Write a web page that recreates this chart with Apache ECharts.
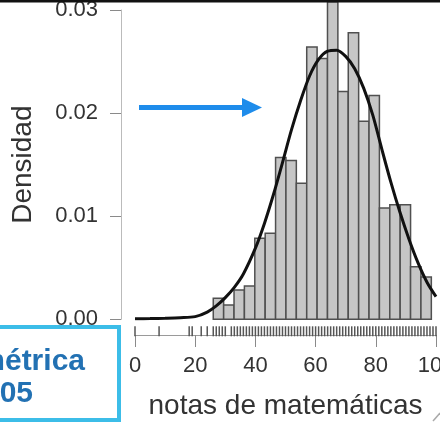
<!DOCTYPE html>
<html>
<head>
<meta charset="utf-8">
<script src="https://cdn.jsdelivr.net/npm/echarts@6/dist/echarts.min.js"></script>
<style>
html, body { margin: 0; padding: 0; background: #fff; }
#chart { width: 440px; height: 422px; }
</style>
</head>
<body>
<div id="chart"></div>
<script>
// histograma: bordes de las clases y densidad de cada una
var binEdges = [26, 29.45, 32.9, 36.35, 39.8, 43.25, 46.7, 50.15, 53.6, 57.05, 60.5,
    63.95, 67.4, 70.85, 74.3, 77.75, 81.2, 84.65, 88.1, 91.55, 95, 98.45];
var density = [0.00204, 0.00139, 0.00284, 0.00323, 0.00786, 0.00834, 0.0157, 0.0154, 0.0132,
    0.0264, 0.0253, 0.0308, 0.0221, 0.0278, 0.0192, 0.0217, 0.0108, 0.0111, 0.0111, 0.0051, 0.0041];

// curva de densidad
var curveX = [0, 5, 10, 15, 20, 24, 27, 30, 33, 36, 40, 43, 46, 49, 52, 55, 58, 61, 64, 67,
    70, 73, 76, 79, 82, 85, 88, 91, 94, 97, 100];
var curveY = [0.00005, 0.00007, 0.0001, 0.00015, 0.00026, 0.0007, 0.0013, 0.0021, 0.0031, 0.0044,
    0.0069, 0.0093, 0.0121, 0.0152, 0.0184, 0.0212, 0.0236, 0.0252, 0.026, 0.0261,
    0.0255, 0.0243, 0.0224, 0.0198, 0.0165, 0.0133, 0.0104, 0.0078, 0.0055, 0.0036, 0.0022];

// rug (notas observadas)
var rugNotas = [0, 8, 18, 19, 22, 24, 26, 27, 28, 29, 30,
    32, 33, 34, 35, 36, 37, 38, 39, 40, 41, 42, 43, 44, 45, 46, 47, 48, 49, 50,
    51, 52, 53, 54, 55, 56, 57, 58, 59, 60, 61, 62, 63, 64, 65, 66, 67, 68, 69, 70,
    71, 72, 73, 74, 75, 76, 77, 78, 79, 80, 81, 82, 83, 84, 85, 86, 87, 88, 89, 90,
    91, 92, 93, 94, 95, 96, 97, 98, 99, 100];

var xTicks = [0, 20, 40, 60, 80, 100];
var yTicks = [0, 0.01, 0.02, 0.03];

var chart = echarts.init(document.getElementById('chart'));

var histData = density.map(function (d, i) { return [binEdges[i], binEdges[i + 1], d]; });
var curveData = curveX.map(function (x, i) { return [x, curveY[i]]; });
var rugData = rugNotas.map(function (v) { return [v, 0]; });

var font = '"Liberation Sans", Arial, sans-serif';

option = {
    backgroundColor: '#fff',
    animation: false,
    grid: { left: 135, right: 4, top: 10, bottom: 102.7, containLabel: false, outerBoundsMode: 'none' },
    xAxis: {
        type: 'value',
        min: xTicks[0],
        max: xTicks[xTicks.length - 1],
        interval: xTicks[1] - xTicks[0],
        offset: 15.7,
        axisLine: { onZero: false, lineStyle: { color: '#9a9a9a', width: 1 } },
        axisTick: { length: 12, lineStyle: { color: '#8a8a8a' } },
        axisLabel: { fontSize: 22, color: '#333', margin: 20, fontFamily: font, showMaxLabel: true },
        splitLine: { show: false },
        name: 'notas de matemáticas',
        nameLocation: 'middle',
        nameGap: 57,
        nameTextStyle: { fontSize: 28, color: '#333', fontFamily: font }
    },
    yAxis: {
        type: 'value',
        min: yTicks[0],
        max: yTicks[yTicks.length - 1],
        interval: yTicks[1] - yTicks[0],
        offset: 14,
        axisLine: { show: true, onZero: false, lineStyle: { color: '#bbb', width: 1 } },
        axisTick: { show: true, length: 11, lineStyle: { color: '#8a8a8a' } },
        axisLabel: {
            fontSize: 22, color: '#333', margin: 23, fontFamily: font,
            formatter: function (v) { return v.toFixed(2); }
        },
        splitLine: { show: false },
        name: 'Densidad',
        nameLocation: 'middle',
        nameGap: 84,
        nameTextStyle: { fontSize: 28, color: '#333', fontFamily: font }
    },
    series: [
        {
            type: 'custom',
            name: 'histograma',
            data: histData,
            encode: { x: [0, 1], y: 2 },
            clip: false,
            renderItem: function (params, api) {
                var p0 = api.coord([api.value(0), api.value(2)]);
                var p1 = api.coord([api.value(1), 0]);
                return {
                    type: 'rect',
                    shape: { x: p0[0], y: p0[1], width: p1[0] - p0[0], height: p1[1] - p0[1] },
                    style: { fill: '#c6c6c6', stroke: '#505050', lineWidth: 1.5 }
                };
            },
            z: 2
        },
        {
            type: 'line',
            name: 'densidad',
            data: curveData,
            smooth: 0.3,
            showSymbol: false,
            lineStyle: { color: '#111', width: 3 },
            z: 5
        },
        {
            type: 'custom',
            name: 'rug',
            data: rugData,
            clip: false,
            renderItem: function (params, api) {
                var p = api.coord([api.value(0), 0]);
                return {
                    type: 'line',
                    shape: { x1: p[0], y1: p[1] + 7, x2: p[0], y2: p[1] + 17 },
                    style: { stroke: '#555', lineWidth: 1.5 }
                };
            },
            z: 3
        }
    ],
    graphic: [
        { type: 'rect', shape: { x: 0, y: 0, width: 440, height: 2.5 }, style: { fill: '#111' }, z: 100 },
        { type: 'line', shape: { x1: 139, y1: 107.5, x2: 246, y2: 107.5 }, style: { stroke: '#1e8ceb', lineWidth: 5 }, z: 100 },
        { type: 'polygon', shape: { points: [[242, 98], [262, 107.5], [242, 117]] }, style: { fill: '#1e8ceb' }, z: 100 },
        { type: 'rect', shape: { x: -6, y: 327, width: 125, height: 93 }, style: { fill: '#fff', stroke: '#3cbde8', lineWidth: 4 }, z: 100 },
        { type: 'text', x: 85, y: 362, style: { text: 'métrica', font: 'bold 30px ' + font, fill: '#2271b3', align: 'right', verticalAlign: 'middle' }, z: 101 },
        { type: 'text', x: 33, y: 394, style: { text: '05', font: 'bold 30px ' + font, fill: '#2271b3', align: 'right', verticalAlign: 'middle' }, z: 101 },
        { type: 'line', shape: { x1: 433, y1: 421, x2: 440, y2: 413 }, style: { stroke: '#aaa', lineWidth: 1.5 }, z: 100 }
    ]
};

chart.setOption(option);
</script>
</body>
</html>
